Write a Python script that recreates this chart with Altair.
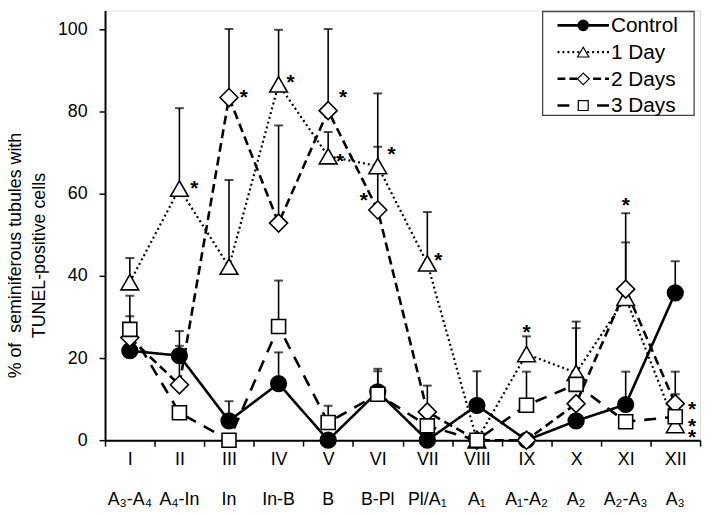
import altair as alt
import pandas as pd

categories = ["I", "II", "III", "IV", "V", "VI", "VII", "VIII", "IX", "X", "XI", "XII"]
stages = ["A₃-A₄", "A₄-In", "In", "In-B", "B", "B-Pl", "Pl/A₁", "A₁", "A₁-A₂", "A₂", "A₂-A₃", "A₃"]
series_names = ["Control", "1 Day", "2 Days", "3 Days"]

control = [21.8, 20.6, 4.7, 13.8, 0.0, 11.8, 0.0, 8.5, 0.0, 4.7, 8.7, 35.9]
control_upper = [30.2, 26.6, 9.5, 21.4, None, 17.4, None, 16.8, None, None, 16.7, 43.6]

day1 = [38.5, 61.3, 42.3, 86.7, 69.2, 66.8, 43.1, 0.0, 21.0, 16.4, 34.7, 3.7]
day1_upper = [44.4, 80.9, 63.4, 100.0, 75.1, 84.5, 55.6, None, 25.3, 28.9, 48.2, 11.2]

day2 = [25.0, 13.5, 83.5, 52.9, 80.3, 56.1, 6.9, 0.0, 0.0, 8.9, 36.8, 8.9]
day2_upper = [None, 23.0, 100.2, 76.7, 100.2, 71.5, 13.3, None, None, None, 55.3, 16.7]

day3 = [27.0, 6.7, 0.0, 27.7, 4.3, 11.2, 3.5, 0.0, 8.5, 13.6, 4.5, 5.7]
day3_upper = [35.2, None, None, 38.9, 8.4, 16.8, None, None, 16.7, 27.3, None, None]

# significance asterisks: category, height (data units), horizontal offset group
ast_cat = ["II", "III", "IV", "V", "V", "VI", "VI", "VII", "IX", "XI", "XII", "XII", "XII"]
ast_val = [62.6, 84.9, 88.5, 84.9, 69.2, 70.9, 59.6, 45.1, 27.5, 58.4, 8.9, 4.7, 1.9]
ast_dx = [15, 15, 12, 15, 12, 14, -14, 11, 0, 0, 17, 17, 17]

values = [control, day1, day2, day3]
uppers = [control_upper, day1_upper, day2_upper, day3_upper]

rows = []
for name, vals, ups in zip(series_names, values, uppers):
    for c, v, u in zip(categories, vals, ups):
        rows.append({"series": name, "cat": c, "value": v, "upper": u})
df = pd.DataFrame(rows)

FONT = "Liberation Sans"
W, H = 601, 434

X = alt.X("cat:N", sort=categories,
          scale=alt.Scale(type="band", domain=categories, paddingInner=0, paddingOuter=0),
          axis=alt.Axis(title=None, labelAngle=0, tickBand="extent", labelFontSize=18,
                        labelFont=FONT, tickSize=6, labelPadding=5, domainColor="black",
                        domainWidth=2, tickColor="black", tickWidth=1.5, labelColor="black"))
Y = alt.Y("value:Q",
          scale=alt.Scale(domain=[0, 104.7], nice=False, zero=True),
          axis=alt.Axis(values=[0, 20, 40, 60, 80, 100], grid=False,
                        title=["% of\u00a0 seminiferous tubules with", "TUNEL-positive cells"],
                        titleFontSize=18, titleFont=FONT, titleFontWeight="normal",
                        titleColor="black", titleLineHeight=24, titlePadding=9, titleY=247,
                        labelFontSize=18, labelFont=FONT, labelColor="black",
                        labelPadding=12, tickSize=6, tickColor="black", tickWidth=1.5,
                        domainColor="black", domainWidth=2))

styles = {
    "Control": dict(dash=[1, 0], width=2.6, shape="circle", fill="black", size=250, lsize=110),
    "1 Day": dict(dash=[2, 3], width=2.2, shape="triangle-up", fill="white", size=320, lsize=130),
    "2 Days": dict(dash=[9, 5], width=2.6, shape="diamond", fill="white", size=330, lsize=140),
    "3 Days": dict(dash=[12, 9], width=2.6, shape="square", fill="white", size=200, lsize=100),
}

layers = []
for name in series_names:
    s = styles[name]
    layers.append(
        alt.Chart(df[df.series == name]).mark_line(
            color="black", strokeWidth=s["width"], strokeDash=s["dash"]
        ).encode(x=X, y=Y)
    )

err = df.dropna(subset=["upper"])
layers.append(
    alt.Chart(err).mark_rule(color="black", strokeWidth=1.6).encode(
        x=X, y=Y, y2="upper:Q")
)
layers.append(
    alt.Chart(err).mark_tick(color="black", thickness=2, size=9).encode(
        x=X, y=alt.Y("upper:Q"))
)

for name in series_names:
    s = styles[name]
    layers.append(
        alt.Chart(df[df.series == name]).mark_point(
            shape=s["shape"], filled=True, fill=s["fill"], stroke="black",
            strokeWidth=1.6, size=s["size"], opacity=1
        ).encode(x=X, y=Y)
    )

ast_df = pd.DataFrame({"cat": ast_cat, "value": ast_val, "dx": ast_dx})
for d in sorted(set(ast_dx)):
    layers.append(
        alt.Chart(ast_df[ast_df.dx == d]).mark_text(
            text="*", fontSize=21, fontWeight="bold", font=FONT, color="black",
            baseline="alphabetic", dx=d, dy=12
        ).encode(x=X, y=Y)
    )

stage_df = pd.DataFrame({"cat": categories, "stage": stages})
layers.append(
    alt.Chart(stage_df).mark_text(fontSize=18, font=FONT, color="black", baseline="middle").encode(
        x=X, y=alt.value(H + 60), text="stage:N")
)

# legend box (pixel positions inside the plot area)
box_df = pd.DataFrame({"k": [0]})
layers.append(
    alt.Chart(box_df).mark_rect(fill="white", stroke="#444", strokeWidth=1.3).encode(
        x=alt.value(442), x2=alt.value(595), y=alt.value(1), y2=alt.value(106))
)
legend_dash = {"Control": [1, 0], "1 Day": [2, 3], "2 Days": [8, 4], "3 Days": [12, 28]}
for i, name in enumerate(series_names):
    s = styles[name]
    ry = 15 + 27 * i
    ldf = pd.DataFrame({"name": [name]})
    layers.append(
        alt.Chart(ldf).mark_rule(color="black", strokeWidth=s["width"],
                                 strokeDash=legend_dash[name]).encode(
            x=alt.value(457), x2=alt.value(509), y=alt.value(ry))
    )
    layers.append(
        alt.Chart(ldf).mark_point(shape=s["shape"], filled=True, fill=s["fill"], stroke="black",
                                  strokeWidth=1.2, size=s["lsize"], opacity=1).encode(
            x=alt.value(483), y=alt.value(ry))
    )
    layers.append(
        alt.Chart(ldf).mark_text(fontSize=21, font=FONT, color="black", align="left",
                                 baseline="middle").encode(
            x=alt.value(511), y=alt.value(ry + 1), text="name:N")
    )

chart = alt.layer(*layers).properties(
    width=W, height=H,
    autosize=alt.AutoSizeParams(type="none"),
    padding={"left": 98, "top": 0, "right": 6, "bottom": 72},
).configure_view(stroke="black", strokeWidth=2).configure(font=FONT)

chart.save("out.html", embed_options={"renderer": "svg", "actions": False})
